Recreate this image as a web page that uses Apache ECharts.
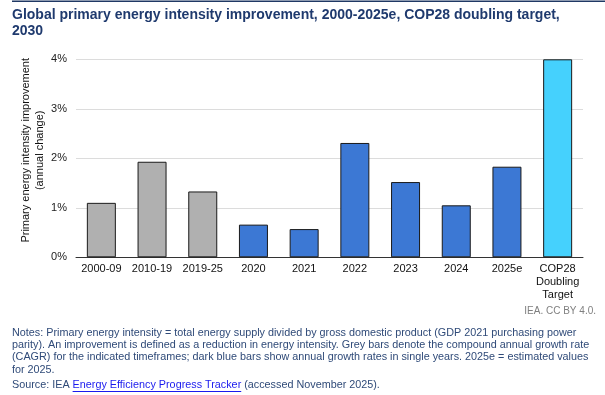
<!DOCTYPE html>
<html>
<head>
<meta charset="utf-8">
<script src="https://cdn.jsdelivr.net/npm/echarts@6/dist/echarts.min.js"></script>
<style>
html,body{margin:0;padding:0;background:#fff;}
#chart{width:605px;height:395px;}
</style>
</head>
<body>
<div id="chart"></div>
<script>
var categories = ['2000-09', '2010-19', '2019-25', '2020', '2021', '2022', '2023', '2024', '2025e', 'COP28\nDoubling\nTarget'];
var values = [1.10, 1.93, 1.33, 0.66, 0.57, 2.31, 1.52, 1.05, 1.83, 4.0];
var barKinds = ['cagr', 'cagr', 'cagr', 'year', 'year', 'year', 'year', 'year', 'year', 'target'];
var yTicks = [0, 1, 2, 3, 4];

var kindColor = { cagr: '#b0b0b0', year: '#3c78d4', target: '#45d1fd' };

var chart = echarts.init(document.getElementById('chart'), null, { renderer: 'canvas' });
var FONT = '"Liberation Sans", Arial, sans-serif';
var NOTE_FONT = '10.8px ' + FONT;
var NOTE_COLOR = '#2f4a78';

var ctx = document.createElement('canvas').getContext('2d');
ctx.font = NOTE_FONT;
var srcPre = 'Source: IEA ';
var srcLink = 'Energy Efficiency Progress Tracker';
var srcPost = ' (accessed November 2025).';
var wPre = ctx.measureText(srcPre).width;
var wLink = ctx.measureText(srcLink).width;

chart.setOption({
  animation: false,
  grid: { left: 76, right: 22, top: 59.3, bottom: 137.7, containLabel: false },
  xAxis: {
    type: 'category',
    data: categories,
    axisLine: { show: true, lineStyle: { color: '#333', width: 1 } },
    axisTick: { show: false },
    axisLabel: { color: '#111', fontSize: 11, fontFamily: FONT, margin: 5, lineHeight: 13, interval: 0 }
  },
  yAxis: {
    type: 'value',
    min: yTicks[0], max: yTicks[yTicks.length - 1], interval: 1,
    axisLine: { show: false },
    axisTick: { show: false },
    splitLine: { lineStyle: { color: '#dcdcdc', width: 1 } },
    axisLabel: { color: '#222', fontSize: 11, fontFamily: FONT, margin: 9, formatter: function (v) { return v + '%'; } },
    name: 'Primary energy intensity improvement\n(annual change)',
    nameLocation: 'middle',
    nameGap: 29,
    nameMoveOverlap: false,
    nameTextStyle: { color: '#111', fontSize: 11, fontFamily: FONT, lineHeight: 14, padding: [0, 0, 0, 16] }
  },
  series: [{
    type: 'bar',
    barWidth: 29,
    data: values.map(function (v, i) {
      return { value: v, itemStyle: { color: kindColor[barKinds[i]], borderColor: '#1a1a1a', borderWidth: 1 } };
    })
  }],
  graphic: [
    { type: 'rect', shape: { x: 12, y: 0.5, width: 593, height: 1.6 }, style: { fill: '#1f3864' } },
    { type: 'text', left: 12, top: 7.5, style: { text: 'Global primary energy intensity improvement, 2000-2025e, COP28 doubling target,\n2030', fill: '#1f3a6e', font: 'bold 14px ' + FONT, lineHeight: 15.5 } },
    { type: 'text', right: 9, top: 306, style: { text: 'IEA. CC BY 4.0.', fill: '#7f7f7f', font: '10px ' + FONT } },
    { type: 'text', left: 12, top: 327, style: { text: 'Notes: Primary energy intensity = total energy supply divided by gross domestic product (GDP 2021 purchasing power\nparity). An improvement is defined as a reduction in energy intensity. Grey bars denote the compound annual growth rate\n(CAGR) for the indicated timeframes; dark blue bars show annual growth rates in single years. 2025e = estimated values\nfor 2025.', fill: NOTE_COLOR, font: NOTE_FONT, lineHeight: 12.2 } },
    { type: 'text', left: 12, top: 379.5, style: { text: srcPre, fill: NOTE_COLOR, font: NOTE_FONT } },
    { type: 'text', left: 12 + wPre, top: 379.5, style: { text: srcLink, fill: '#1a1aee', font: NOTE_FONT } },
    { type: 'rect', shape: { x: 12 + wPre, y: 391, width: wLink, height: 0.9 }, style: { fill: '#1a1aee' } },
    { type: 'text', left: 12 + wPre + wLink, top: 379.5, style: { text: srcPost, fill: NOTE_COLOR, font: NOTE_FONT } }
  ]
});
</script>
</body>
</html>
